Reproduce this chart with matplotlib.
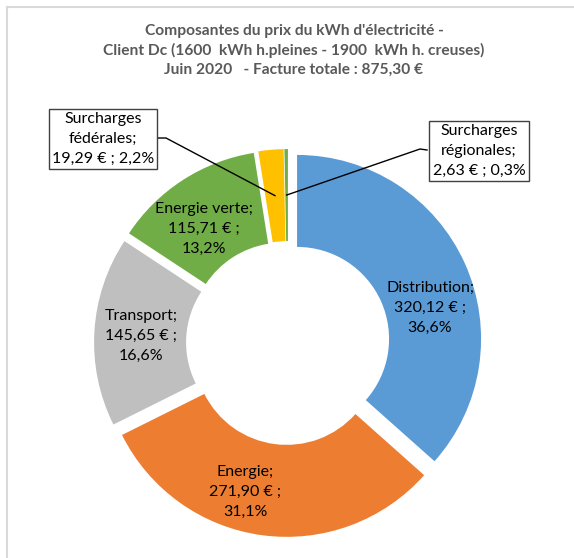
import numpy as np
import matplotlib
matplotlib.use("Agg")
import matplotlib.pyplot as plt
from matplotlib.lines import Line2D

plt.rcParams['font.family'] = ['Lato', 'DejaVu Sans']

# ---- data ----
names = ["Distribution", "Energie", "Transport", "Energie verte",
         "Surcharges fédérales", "Surcharges régionales"]
values = [320.12, 271.90, 145.65, 115.71, 19.29, 2.63]
colors = ["#5B9BD5", "#ED7D31", "#BFBFBF", "#70AD47", "#FFC000", "#70AD47"]
title_lines = ["Composantes du prix du kWh d'électricité -",
               "Client Dc (1600  kWh h.pleines - 1900  kWh h. creuses)",
               "Juin 2020   - Facture totale : 875,30 €"]

W, H = 574, 558
CX, CY, RPX = 288, 343, 184   # pie centre / radius in pixels
EXPL = 0.054
HOLE = 0.50

def p2d(px, py):
    return (px - CX) / RPX, (CY - py) / RPX

fig = plt.figure(figsize=(W / 100, H / 100), dpi=100)
ax = fig.add_axes([0, 0, 1, 1])

wedges, _ = ax.pie(values, colors=colors, startangle=90, counterclock=False,
                   explode=[EXPL] * len(values), radius=1,
                   wedgeprops=dict(width=1 - HOLE, edgecolor='none'))
ax.set_aspect('auto')
ax.set_xlim(-CX / RPX, (W - CX) / RPX)
ax.set_ylim(-(H - CY) / RPX, CY / RPX)
ax.axis('off')

total = sum(values)

def fmt(v):
    return f"{v:.2f}".replace('.', ',')

def pct(v):
    return f"{100 * v / total:.1f}".replace('.', ',') + "%"

lab_kw = dict(ha='center', va='center', fontsize=11.5, color='black', linespacing=1.55)

# inside labels (pixel positions of label centres)
inside_pos = {0: (430, 308), 1: (245, 492), 2: (141, 336), 3: (204, 229)}
for i, (px, py) in inside_pos.items():
    x, y = p2d(px, py)
    ax.text(x, y, f"{names[i]};\n{fmt(values[i])} € ;\n{pct(values[i])}", **lab_kw)

# callout labels
callouts = {4: ((103, 139), "Surcharges\nfédérales;"),
            5: ((479, 151), "Surcharges\nrégionales;")}
elbows = {4: [(158, 138), (166, 138)], 5: [(427, 150), (420, 149)]}
for i, ((px, py), head) in callouts.items():
    x, y = p2d(px, py)
    ax.text(x, y, f"{head}\n{fmt(values[i])} € ; {pct(values[i])}",
            bbox=dict(boxstyle='square,pad=0.2', fc='white', ec='#404040', lw=1.0),
            zorder=5, **lab_kw)
    w = wedges[i]
    mid = np.deg2rad((w.theta1 + w.theta2) / 2)
    rr = EXPL + (1 + HOLE) / 2
    ex, ey = rr * np.cos(mid), rr * np.sin(mid)
    pts = [p2d(*p) for p in elbows[i]] + [(ex, ey)]
    ax.plot([p[0] for p in pts], [p[1] for p in pts], color='black', lw=1.0, zorder=4)

# title
for k, line in enumerate(title_lines):
    fig.text(294 / W, 1 - (31 + 19.5 * k) / H, line, ha='center', va='center',
             fontsize=11.2, fontweight='bold', color='#595959')

# chart frame (left/top edges visible)
fig.add_artist(Line2D([6.5 / W, 6.5 / W], [0, 1 - 6.5 / H], color='#D9D9D9', lw=1.5,
                      transform=fig.transFigure))
fig.add_artist(Line2D([6.5 / W, 1], [1 - 6.5 / H, 1 - 6.5 / H], color='#D9D9D9', lw=1.5,
                      transform=fig.transFigure))

fig.savefig("out.png", dpi=100, facecolor='white')
